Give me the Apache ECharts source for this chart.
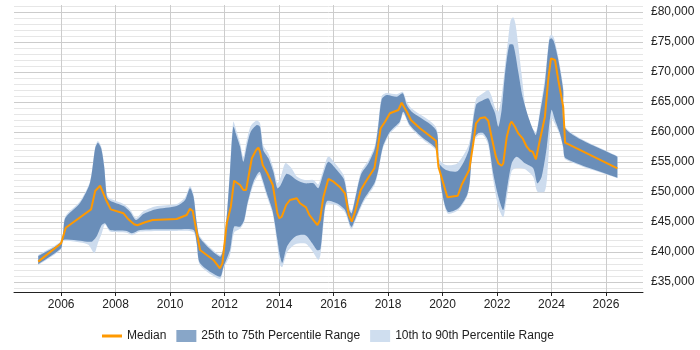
<!DOCTYPE html>
<html>
<head>
<meta charset="utf-8">
<script src="https://cdn.jsdelivr.net/npm/echarts@6/dist/echarts.min.js"></script>
<style>
  html, body { margin: 0; padding: 0; background: #fff; }
  #main { width: 700px; height: 350px; }
</style>
</head>
<body>
<div id="main"></div>
<script>
// tick labels
var yearTicks = [2006, 2008, 2010, 2012, 2014, 2016, 2018, 2020, 2022, 2024, 2026];
var yTicks = [35000, 40000, 45000, 50000, 55000, 60000, 65000, 70000, 75000, 80000];

// median salary, [year, value]
var median = [[2005.16,38400],[2006.0,41450],[2006.17,44050],[2007.1,47100],[2007.25,50170],[2007.43,51050],[2007.5,51000],[2007.65,48670],[2007.82,47100],[2008.29,46450],[2008.47,45450],[2008.68,44620],[2008.8,44450],[2009.08,44950],[2009.36,45330],[2010.24,45500],[2010.61,46170],[2010.73,47220],[2010.83,46830],[2011.1,40330],[2011.59,38670],[2011.83,37280],[2011.92,38110],[2012.08,44780],[2012.23,47550],[2012.35,51880],[2012.42,52000],[2012.57,51170],[2012.69,50330],[2012.79,50330],[2013.0,55620],[2013.16,57000],[2013.24,57380],[2013.3,56720],[2013.4,54500],[2013.57,53120],[2013.77,51170],[2013.94,46450],[2014.01,45620],[2014.1,45880],[2014.26,47830],[2014.4,48670],[2014.65,48950],[2014.71,48670],[2014.77,48120],[2014.99,47450],[2015.11,46170],[2015.26,45330],[2015.41,44500],[2015.5,45330],[2015.63,49220],[2015.81,52170],[2016.0,51720],[2016.24,50780],[2016.42,49780],[2016.56,46200],[2016.67,45050],[2016.79,46720],[2017.0,50330],[2017.22,52000],[2017.5,53950],[2017.61,57000],[2017.73,60620],[2017.89,61720],[2018.07,63120],[2018.38,63670],[2018.5,64880],[2018.56,64880],[2018.69,63380],[2018.84,62000],[2019.17,60620],[2019.54,59330],[2019.76,58550],[2019.85,54220],[2020.03,51450],[2020.18,49120],[2020.56,49380],[2020.7,51170],[2020.98,53670],[2021.13,58120],[2021.23,61450],[2021.38,62280],[2021.56,62450],[2021.68,61880],[2021.8,59220],[2021.96,55880],[2022.05,54780],[2022.17,54380],[2022.23,54780],[2022.36,59220],[2022.48,61330],[2022.54,61720],[2022.66,60880],[2022.78,59780],[2022.94,58950],[2023.09,57550],[2023.21,56880],[2023.31,56720],[2023.43,55450],[2023.55,58120],[2023.76,62550],[2023.88,68670],[2023.98,72280],[2024.13,72000],[2024.25,68670],[2024.43,64220],[2024.5,58220],[2026.42,53950]];

// 75th percentile
var p75 = [[2005.16,39330],[2006.0,41720],[2006.15,45620],[2006.7,48220],[2007.06,51550],[2007.25,57280],[2007.35,58220],[2007.47,57280],[2007.58,54220],[2007.68,49220],[2007.8,48550],[2008.29,47670],[2008.53,46720],[2008.75,45330],[2009.02,46330],[2009.45,47100],[2010.24,47670],[2010.55,48670],[2010.73,50620],[2010.86,49220],[2010.98,44780],[2011.1,42280],[2011.83,39220],[2011.96,40620],[2012.1,47000],[2012.2,53380],[2012.32,60880],[2012.45,59220],[2012.57,57550],[2012.69,55050],[2012.81,57550],[2012.96,60050],[2013.18,61170],[2013.3,60880],[2013.42,57000],[2013.61,55620],[2013.79,53380],[2013.94,50620],[2014.06,51170],[2014.26,53000],[2014.4,52830],[2014.65,52000],[2014.95,51450],[2015.26,51450],[2015.44,50620],[2015.63,53120],[2015.81,55050],[2016.12,53670],[2016.39,52000],[2016.58,47000],[2016.67,46450],[2017.0,52830],[2017.28,54780],[2017.52,57280],[2017.64,60880],[2017.77,65450],[2017.95,66170],[2018.32,65880],[2018.54,66450],[2018.69,64500],[2018.87,63380],[2019.76,60330],[2019.88,54780],[2020.13,53670],[2020.56,53500],[2020.97,57100],[2021.23,64500],[2021.5,65330],[2021.68,65620],[2021.8,64500],[2021.93,63120],[2022.05,60880],[2022.17,63670],[2022.29,69500],[2022.45,74500],[2022.6,74500],[2022.78,70050],[2022.94,65880],[2023.15,62550],[2023.33,60330],[2023.43,59500],[2023.58,63120],[2023.76,68120],[2023.92,75330],[2024.0,75620],[2024.09,75050],[2024.25,72000],[2024.43,67000],[2024.53,60500],[2026.42,55880]];

// 25th percentile
var p25 = [[2005.16,37950],[2006.0,40620],[2006.08,42000],[2006.7,41880],[2007.12,41720],[2007.31,42670],[2007.49,44500],[2007.61,44780],[2007.8,43670],[2008.41,43500],[2008.6,43120],[2008.9,43670],[2010.24,43780],[2010.86,43670],[2010.98,41450],[2011.1,38120],[2011.83,35880],[2011.96,37550],[2012.2,40330],[2012.35,44220],[2012.57,44220],[2012.72,45330],[2012.84,48120],[2013.06,51720],[2013.28,53380],[2013.4,52000],[2013.55,49780],[2013.77,46720],[2013.94,42000],[2014.04,39220],[2014.12,38200],[2014.3,41000],[2014.6,42600],[2014.97,42800],[2015.21,41500],[2015.4,40300],[2015.52,40500],[2015.64,45800],[2015.76,48500],[2016.12,48120],[2016.42,47000],[2016.61,44500],[2016.67,44200],[2016.83,45880],[2017.1,48670],[2017.5,51450],[2017.64,53670],[2017.81,57550],[2018.07,60050],[2018.43,61720],[2018.56,63380],[2018.8,61170],[2019.23,59220],[2019.79,57000],[2019.97,50330],[2020.19,46720],[2020.58,47280],[2020.9,49500],[2021.0,51700],[2021.13,58670],[2021.31,59780],[2021.5,59780],[2021.68,58380],[2021.86,53120],[2022.05,49220],[2022.23,47000],[2022.36,50330],[2022.54,54780],[2022.72,55880],[2023.03,54780],[2023.33,53950],[2023.48,51450],[2023.64,52550],[2023.83,57550],[2024.0,63670],[2024.13,62000],[2024.31,59780],[2024.43,57550],[2024.52,55620],[2026.42,52380]];

// 90th percentile
var p90 = [[2005.16,39500],[2006.0,41900],[2006.15,45900],[2006.7,48500],[2007.06,51800],[2007.25,57500],[2007.35,58500],[2007.47,57600],[2007.58,54500],[2007.68,49600],[2007.8,48900],[2008.29,48000],[2008.53,47100],[2008.75,45700],[2009.02,46800],[2009.45,47600],[2010.24,48000],[2010.55,49100],[2010.73,51000],[2010.86,49600],[2010.98,45100],[2011.1,42600],[2011.83,39500],[2011.96,41000],[2012.1,47500],[2012.2,54000],[2012.32,61700],[2012.45,60000],[2012.57,58200],[2012.69,55800],[2012.81,58500],[2012.96,61000],[2013.18,61900],[2013.3,61500],[2013.42,57800],[2013.61,56400],[2013.79,54000],[2013.94,51500],[2014.06,52500],[2014.23,54800],[2014.45,54000],[2014.65,52600],[2014.95,52000],[2015.26,52000],[2015.44,51300],[2015.63,53800],[2015.81,55900],[2016.12,54400],[2016.39,52600],[2016.58,47500],[2016.67,46800],[2017.0,53300],[2017.28,55300],[2017.52,57800],[2017.64,61500],[2017.77,66000],[2017.95,66500],[2018.32,66300],[2018.54,66700],[2018.69,65000],[2018.87,63900],[2019.76,60800],[2019.88,55500],[2020.13,54500],[2020.55,54800],[2020.97,58000],[2021.23,65500],[2021.5,66500],[2021.68,67000],[2021.8,66000],[2021.93,64000],[2022.05,63400],[2022.17,66000],[2022.29,70800],[2022.41,75500],[2022.5,78600],[2022.6,79100],[2022.68,78000],[2022.78,74500],[2022.9,69800],[2023.08,63100],[2023.26,60900],[2023.43,60000],[2023.58,63800],[2023.76,69000],[2023.92,75800],[2024.0,76200],[2024.09,75700],[2024.25,72500],[2024.43,67500],[2024.53,60700],[2026.42,55950]];

// 10th percentile
var p10 = [[2005.16,37800],[2006.0,40400],[2006.08,41800],[2006.7,41600],[2007.0,41200],[2007.22,39800],[2007.35,41500],[2007.49,43100],[2007.61,44600],[2007.8,43400],[2008.41,43200],[2008.6,42800],[2008.9,43400],[2010.24,43500],[2010.86,43300],[2010.98,41100],[2011.1,37800],[2011.83,35500],[2011.96,37200],[2012.2,39500],[2012.35,43200],[2012.57,43900],[2012.72,45000],[2012.84,47700],[2013.06,51200],[2013.28,52900],[2013.4,51500],[2013.55,49300],[2013.77,46300],[2013.94,41000],[2014.04,37800],[2014.12,37500],[2014.3,40000],[2014.6,41300],[2014.97,41400],[2015.2,40300],[2015.44,38700],[2015.52,39500],[2015.64,45000],[2015.75,48000],[2016.12,47800],[2016.42,46600],[2016.61,44100],[2016.67,43800],[2016.83,45500],[2017.1,48300],[2017.5,51100],[2017.64,53300],[2017.81,57200],[2018.07,59700],[2018.43,61400],[2018.56,63100],[2018.8,60900],[2019.23,58900],[2019.79,56700],[2019.97,50000],[2020.19,46400],[2020.58,47000],[2020.9,49200],[2021.0,51400],[2021.13,58300],[2021.31,59400],[2021.5,59400],[2021.68,57800],[2021.86,52000],[2022.05,47500],[2022.23,45800],[2022.36,49000],[2022.54,53500],[2022.72,54000],[2023.03,53800],[2023.33,52500],[2023.48,50100],[2023.75,50100],[2023.85,53000],[2024.0,62300],[2024.13,61300],[2024.31,59500],[2024.43,57300],[2024.52,55400],[2026.42,52300]];

var minorTicks = [];
for (var v = 34000; v <= 81000; v += 1000) minorTicks.push(v);

var bandDark = '#6a8eb9';
var bandLight = '#cddcee';

// polygon between an upper and a lower percentile line
// (end points doubled so the smoothing keeps the band ends straight)
function band(upper, lower, fill) {
    return function (params, api) {
        if (params.dataIndex !== 0) return;
        var top = upper.map(function (p) { return api.coord(p); });
        var bot = lower.slice().reverse().map(function (p) { return api.coord(p); });
        var pts = [top[0]].concat(top, [top[top.length - 1]], [bot[0]], bot, [bot[bot.length - 1]]);
        return {
            type: 'polygon',
            shape: { points: pts, smooth: 0.25 },
            style: { fill: fill }
        };
    };
}

var myChart = echarts.init(document.getElementById('main'));

option = {
    animation: false,
    textStyle: { fontFamily: 'Liberation Sans, Arial, sans-serif' },
    grid: { left: 14, right: 57, top: 5, bottom: 58 },
    legend: {
        left: 97,
        top: 325,
        itemWidth: 20,
        itemHeight: 12,
        itemGap: 10,
        textStyle: { fontSize: 12, color: '#222' },
        data: [
            { name: 'Median', icon: 'path://M0,0 H20 V3 H0 Z', itemStyle: { color: '#ff9900' } },
            { name: '25th to 75th Percentile Range', icon: 'rect', itemStyle: { color: '#88a6c8' } },
            { name: '10th to 90th Percentile Range', icon: 'rect', itemStyle: { color: '#cfdeef' } }
        ]
    },
    xAxis: {
        type: 'value',
        min: 2004.27,
        max: 2027.36,
        axisLine: { lineStyle: { color: '#222', width: 1 } },
        axisTick: { show: true, length: 4, customValues: yearTicks, lineStyle: { color: '#222' } },
        axisLabel: { customValues: yearTicks, margin: 7, fontSize: 12, color: '#222',
            formatter: function (v) { return String(Math.round(v)); } },
        splitLine: { show: true, lineStyle: { color: '#cccccc' } }
    },
    yAxis: {
        type: 'value',
        position: 'right',
        min: 33333,
        max: 81167,
        axisLine: { show: false },
        axisTick: { show: false, customValues: minorTicks },
        axisLabel: { customValues: yTicks, margin: 8, fontSize: 12, color: '#222',
            formatter: function (v) { return '£' + echarts.format.addCommas(v); } },
        splitLine: { show: true, lineStyle: { color: ['#e6e6e6', '#cccccc', '#e6e6e6', '#e6e6e6', '#e6e6e6'] } }
    },
    series: [
        {
            name: '10th to 90th Percentile Range',
            type: 'custom',
            renderItem: band(p90, p10, bandLight),
            itemStyle: { color: bandLight },
            data: [p90[0]],
            z: 1
        },
        {
            name: '25th to 75th Percentile Range',
            type: 'custom',
            renderItem: band(p75, p25, bandDark),
            itemStyle: { color: bandDark },
            data: [p75[0]],
            z: 2
        },
        {
            name: 'Median',
            type: 'line',
            data: median,
            showSymbol: false,
            symbol: 'none',
            lineStyle: { color: '#ff9900', width: 2 },
            itemStyle: { color: '#ff9900' },
            z: 3
        }
    ]
};

myChart.setOption(option);
</script>
</body>
</html>
